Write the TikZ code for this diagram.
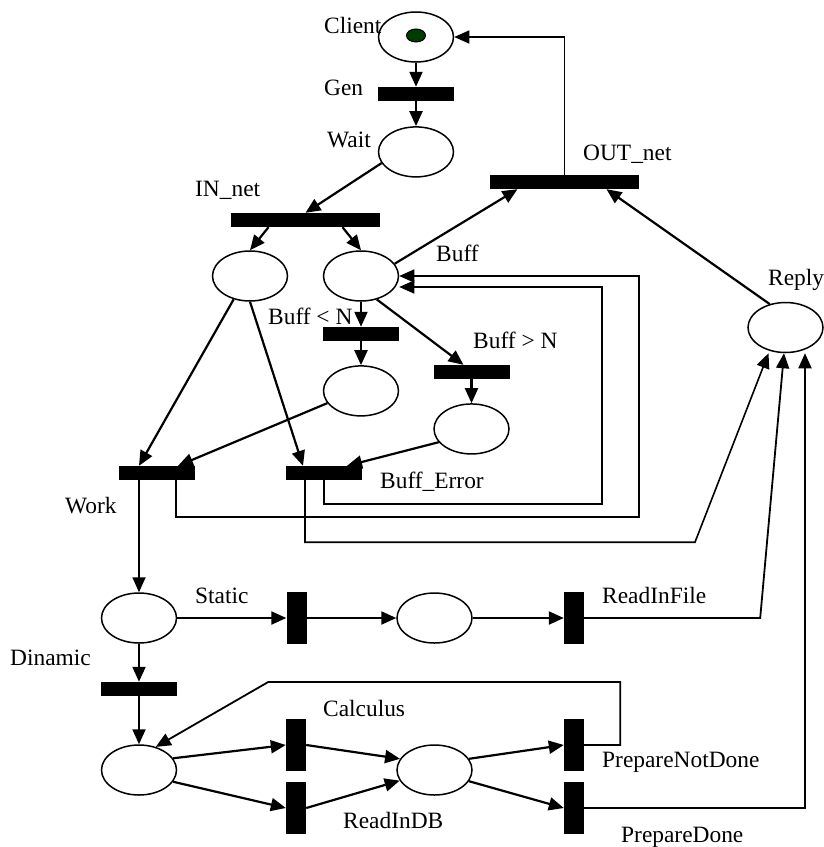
\documentclass[tikz,border=0pt]{standalone}
\usepackage{fontspec}
\setmainfont{Liberation Serif}
\usetikzlibrary{positioning,shapes.geometric,arrows.meta}
\definecolor{tokengreen}{RGB}{0,60,0}

\begin{document}
\begin{tikzpicture}[x=1pt, y=-1pt,
  place/.style={draw, ellipse, line width=1.5pt, minimum width=75pt, minimum height=50pt, inner sep=0pt},
  hbar/.style={fill, minimum width=76pt, minimum height=14pt, inner sep=0pt},
  wbar/.style={hbar, minimum width=149pt},
  vbar/.style={fill, minimum width=20pt, minimum height=52pt, inner sep=0pt},
  arc/.style={line width=2.2pt, -{Triangle[length=15pt,width=13pt]}},
  lbl/.style={font={\fontsize{23.4}{28}\selectfont}, inner sep=0pt, anchor=base west}]
\useasboundingbox (0,0) rectangle (823,847);

\node [place] (client) at (416,37) {};
\node [draw, ellipse, fill=tokengreen, line width=1pt, minimum width=19pt, minimum height=13pt, inner sep=0pt] (token) at (416,35.5) {};
\node [hbar, below=24pt of client] (gen) {};
\node [place, below=25pt of gen] (wait) {};
\node [wbar] (innet) at (305.5,220) {};
\node [place] (request) at (250,276) {};
\node [place] (buff) at (361,276) {};
\node [hbar, below=25pt of buff] (less) {};
\node [place, below=24pt of less] (ok) {};
\node [hbar] (more) at (471.5,372) {};
\node [place, below=24pt of more] (full) {};
\node [hbar] (work) at (157,473) {};
\node [hbar] (bufferr) at (324,473) {};
\node [wbar] (outnet) at (564.5,182) {};
\node [place] (reply) at (785.5,327.5) {};

\node [place] (static) at (139,618) {};
\node [vbar] (statict) at (296.5,618) {};
\node [place] (file) at (434.5,618) {};
\node [vbar] (readfile) at (574,618) {};
\node [hbar, below=38pt of static] (dinamic) {};
\node [place] (calc) at (139,770) {};
\node [vbar] (calculus) at (296,745) {};
\node [vbar] (readdb) at (296,808) {};
\node [place] (db) at (434.5,770) {};
\node [vbar] (notdone) at (574,745) {};
\node [vbar] (done) at (574,808) {};

\node [lbl] at (324,33) {Client};
\node [lbl] at (324,95) {Gen};
\node [lbl] at (327,147) {Wait};
\node [lbl] at (195,196) {IN\_net};
\node [lbl] at (436,261) {Buff};
\node [lbl] at (268,324) {Buff < N};
\node [lbl] at (473,348) {Buff > N};
\node [lbl] at (65,513) {Work};
\node [lbl] at (380,488) {Buff\_Error};
\node [lbl] at (583,160) {OUT\_net};
\node [lbl] at (768,285) {Reply};
\node [lbl] at (195,603) {Static};
\node [lbl] at (10,665) {Dinamic};
\node [lbl] at (602,603) {ReadInFile};
\node [lbl] at (323,716) {Calculus};
\node [lbl] at (343,828) {ReadInDB};
\node [lbl] at (602,767) {PrepareNotDone};
\node [lbl] at (621,842) {PrepareDone};

\draw[arc] (client) -- (gen);
\draw[arc] (gen) -- (wait);
\draw[arc] (wait.198) -- (innet.north);
\draw[arc] ([xshift=-37pt]innet.south) -- (request.north);
\draw[arc] ([xshift=37pt]innet.south) -- (buff.north);
\draw[arc] (request.235) -- ([xshift=-18pt]work.north);
\draw[arc] (request.south) -- ([xshift=-21pt]bufferr.north);
\draw[arc] (buff) -- (less);
\draw[arc] (less) -- (ok);
\draw[arc] (buff.304) -- ([xshift=-8pt]more.north);
\draw[arc] (more) -- (full);
\draw[arc] (ok.200) -- ([xshift=21pt]work.north);
\draw[arc] (full.202) -- ([xshift=23pt]bufferr.north);
\draw[arc] (buff.20) -- ([xshift=-47pt]outnet.south);
\draw[arc] (reply.124) -- ([xshift=42pt]outnet.south);
\draw[arc, line width=1.6pt] (outnet.north) |- (client.east);

\draw[arc, line width=1.6pt] ([xshift=19pt]work.south) -- ++(0,37) -| ([xshift=240pt]buff.east) -- (buff.east);
\draw[arc, line width=1.6pt] (bufferr.south) -- ++(0,24) -| ([xshift=203pt,yshift=-11pt]buff.east) -- ([yshift=-11pt]buff.east);
\draw[arc, line width=1.6pt] ([xshift=-19pt]bufferr.south) -- ++(0,62) -- ++(390,0) -- ([xshift=-17pt]reply.south);
\draw[arc, line width=1.8pt] ([xshift=-18pt]work.south) -- (static.north);

\draw[arc] (static) -- (statict);
\draw[arc] (statict) -- (file);
\draw[arc] (file) -- (readfile);
\draw[arc, line width=1.8pt] (readfile.east) -- ++(176,0) -- ([xshift=-1.5pt]reply.south);
\draw[arc] (static) -- (dinamic);
\draw[arc] (dinamic) -- (calc);
\draw[arc] (calc.19) -- (calculus.west);
\draw[arc] (calc.341) -- (readdb.west);
\draw[arc] (calculus.east) -- (db.162);
\draw[arc] (readdb.east) -- (db.197);
\draw[arc] (db.18) -- (notdone.west);
\draw[arc] (db.342) -- (done.west);
\draw[arc, line width=1.8pt] (notdone.east) -- ++(36,0) -- ++(0,-63) -- ++(-352,0) -- (calc.54);
\draw[arc, line width=1.8pt] (done.east) -| ([xshift=19.5pt]reply.south);
\end{tikzpicture}
\end{document}
